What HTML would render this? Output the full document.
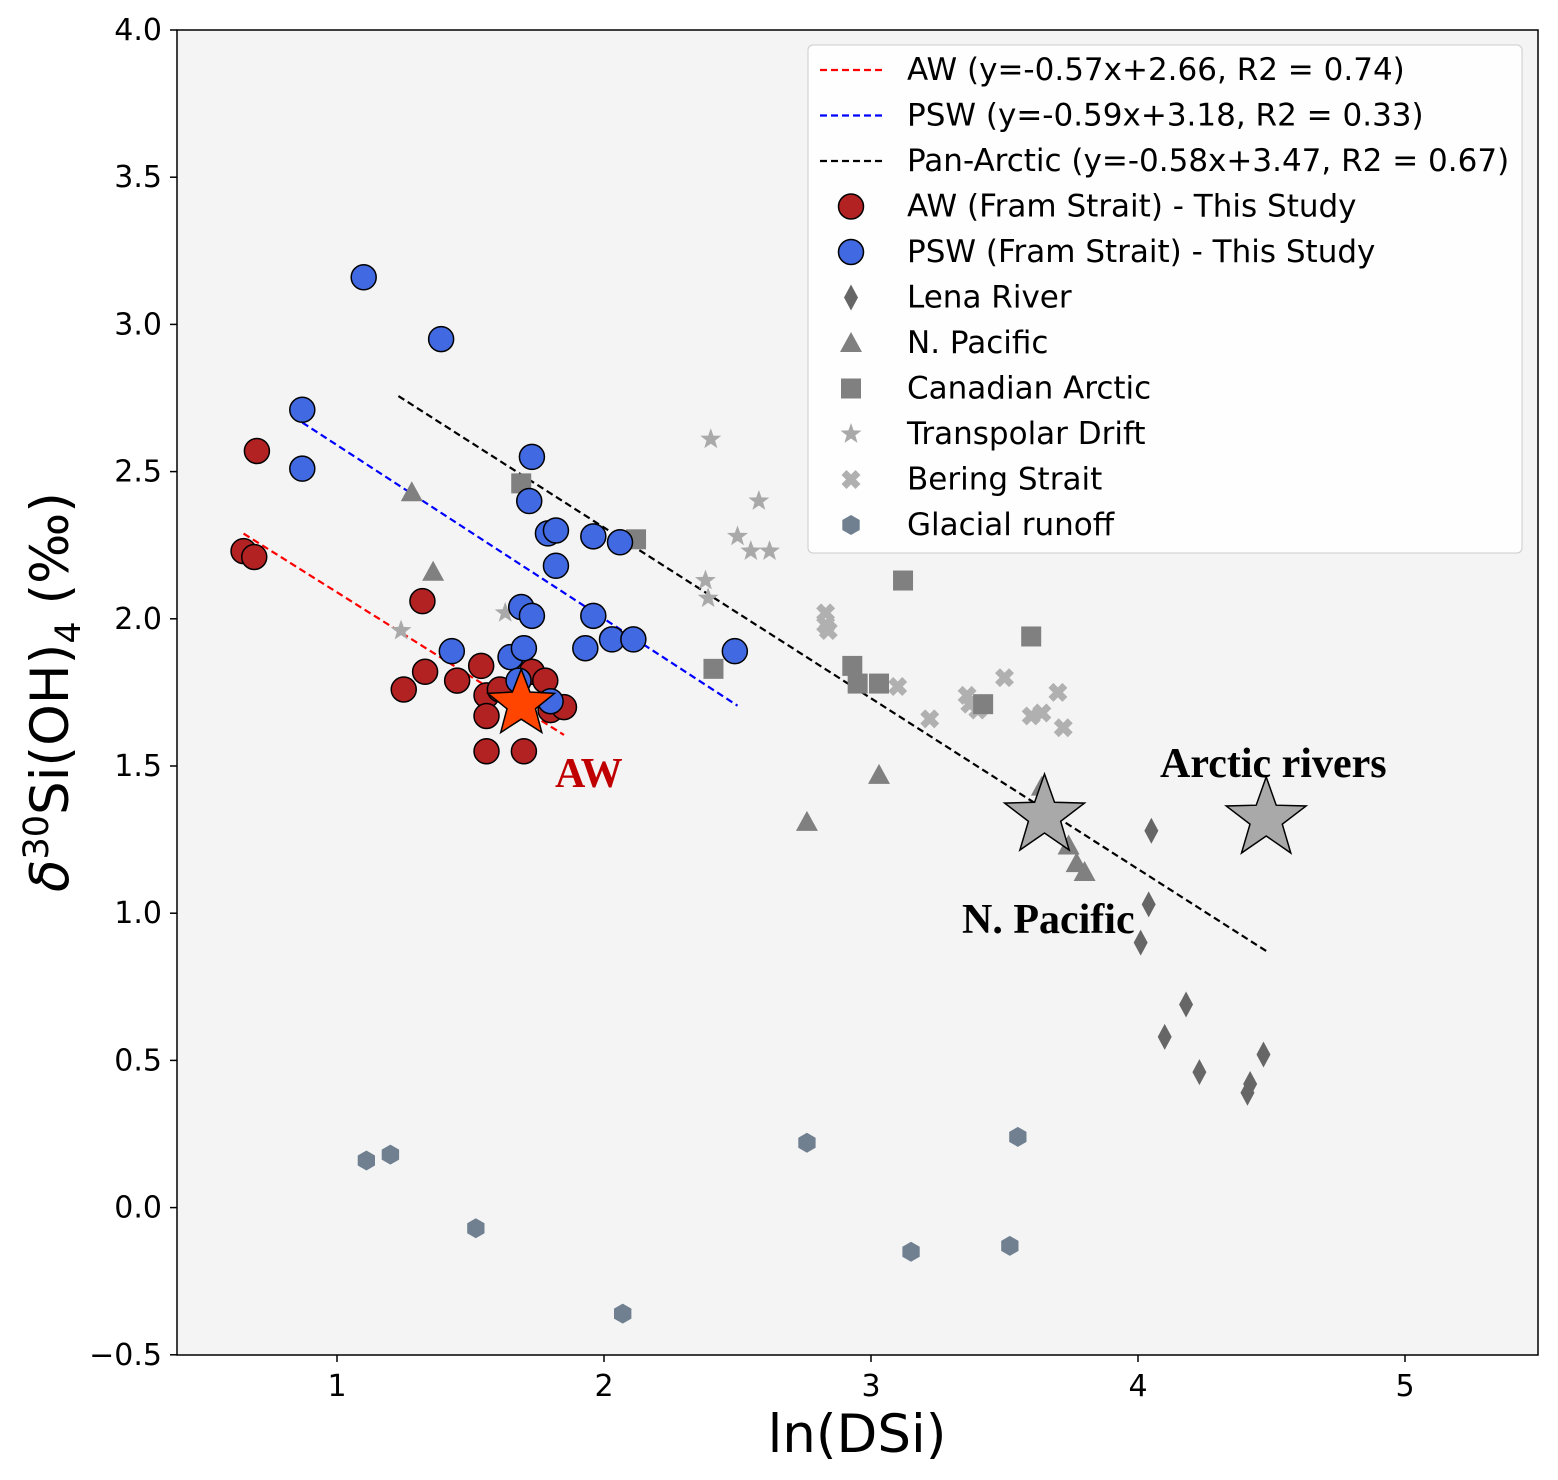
<!DOCTYPE html>
<html><head><meta charset="utf-8"><style>
body{margin:0;background:#fff}
svg text{font-family:"DejaVu Sans","Liberation Sans",sans-serif}
</style></head><body>
<svg id="c" width="1558" height="1475" xmlns="http://www.w3.org/2000/svg">
<rect x="177" y="30" width="1361" height="1325" fill="#f4f4f4" stroke="#000" stroke-width="1.5"/>
<g id="ticks"></g>
<g id="lines"></g>
<g id="marks"></g>
<text x="555" y="787" font-weight="bold" font-size="42" fill="#c00000" style="font-family:'Liberation Serif',serif">AW</text>
<text x="1160" y="777" font-weight="bold" font-size="42" style="font-family:'Liberation Serif',serif">Arctic rivers</text>
<text x="962" y="933" font-weight="bold" font-size="42" style="font-family:'Liberation Serif',serif">N. Pacific</text>
<text x="857" y="1452" text-anchor="middle" font-size="53">ln(DSi)</text>
<text transform="translate(68,692) rotate(-90)" text-anchor="middle" font-size="53"><tspan font-style="italic">δ</tspan><tspan dy="-20" font-size="35">30</tspan><tspan dy="20">Si(OH)</tspan><tspan dy="12" font-size="35">4</tspan><tspan dy="-12"> (‰)</tspan></text>
<g id="legend"><rect x="808" y="45" width="714" height="508" rx="5" fill="#fff" fill-opacity="0.85" stroke="#ccc"/></g>
</svg>
<script>
const xTicks=[1,2,3,4,5];
const yTicks=[-0.5,0.0,0.5,1.0,1.5,2.0,2.5,3.0,3.5,4.0];
const awX=[0.65,0.69,0.70,1.32,1.25,1.33,1.45,1.54,1.56,1.56,1.56,1.70,1.73,1.78,1.80,1.85,1.61];
const awY=[2.23,2.21,2.57,2.06,1.76,1.82,1.79,1.84,1.74,1.67,1.55,1.55,1.82,1.79,1.69,1.70,1.76];
const pswX=[1.10,1.39,0.87,0.87,1.73,1.72,1.79,1.82,1.82,1.96,2.06,1.69,1.73,1.96,1.43,1.65,1.70,1.93,2.03,2.11,2.49,1.68,1.80];
const pswY=[3.16,2.95,2.71,2.51,2.55,2.40,2.29,2.30,2.18,2.28,2.26,2.04,2.01,2.01,1.89,1.87,1.90,1.90,1.93,1.93,1.89,1.79,1.72];
const lenaX=[4.05,4.04,4.01,4.18,4.10,4.23,4.47,4.42,4.41];
const lenaY=[1.28,1.03,0.90,0.69,0.58,0.46,0.52,0.42,0.39];
const npX=[1.28,1.36,2.76,3.03,3.64,3.74,3.77,3.80];
const npY=[2.43,2.16,1.31,1.47,1.43,1.23,1.17,1.14];
const caX=[1.69,2.12,2.41,3.12,2.93,2.95,3.03,3.60,3.42];
const caY=[2.46,2.27,1.83,2.13,1.84,1.78,1.78,1.94,1.71];
const tpX=[1.24,1.63,2.40,2.58,2.50,2.55,2.62,2.38,2.39];
const tpY=[1.96,2.02,2.61,2.40,2.28,2.23,2.23,2.13,2.07];
const bsX=[2.83,2.83,2.84,3.10,3.22,3.36,3.37,3.40,3.50,3.70,3.60,3.64,3.72];
const bsY=[2.02,1.98,1.96,1.77,1.66,1.74,1.71,1.69,1.80,1.75,1.67,1.68,1.63];
const glX=[1.11,1.20,1.52,2.07,2.76,3.15,3.52,3.55];
const glY=[0.16,0.18,-0.07,-0.36,0.22,-0.15,-0.13,0.24];
const bigStarX=[1.69,3.65,4.48];
const bigStarY=[1.71,1.33,1.32];
const fitSlope=[-0.57,-0.59,-0.58];
const fitIntercept=[2.66,3.18,3.47];
const fitRange=[[0.65,1.85],[0.87,2.5],[1.23,4.48]];
const legendLabels=["AW (y=-0.57x+2.66, R2 = 0.74)","PSW (y=-0.59x+3.18, R2 = 0.33)","Pan-Arctic (y=-0.58x+3.47, R2 = 0.67)","AW (Fram Strait) - This Study","PSW (Fram Strait) - This Study","Lena River","N. Pacific","Canadian Arctic","Transpolar Drift","Bering Strait","Glacial runoff"];

const NS="http://www.w3.org/2000/svg";
const X=v=>337+(v-1)*267, Y=v=>30+(4-v)*294.4;
function mk(tag,attrs,parent){const e=document.createElementNS(NS,tag);for(const k in attrs)e.setAttribute(k,attrs[k]);parent.appendChild(e);return e;}
const T=document.getElementById('ticks'),L=document.getElementById('lines'),M=document.getElementById('marks'),G=document.getElementById('legend');
xTicks.forEach(t=>{mk('line',{x1:X(t),x2:X(t),y1:1355,y2:1362,stroke:'#000','stroke-width':1.5},T);
 const e=mk('text',{x:X(t),y:1396,'text-anchor':'middle','font-size':30},T);e.textContent=t;
 
 });
yTicks.forEach(t=>{mk('line',{x1:170,x2:177,y1:Y(t),y2:Y(t),stroke:'#000','stroke-width':1.5},T);
 const e=mk('text',{x:162,y:Y(t)+10,'text-anchor':'end','font-size':30},T);e.textContent=(t<0?'−':'')+Math.abs(t).toFixed(1);
 
 });
const lc=['#ff0000','#0000ff','#000000'];
fitSlope.forEach((s,i)=>{const [a,b]=fitRange[i];
 const l=mk('line',{x1:X(a),y1:Y(s*a+fitIntercept[i]),x2:X(b),y2:Y(s*b+fitIntercept[i]),stroke:lc[i],'stroke-width':2.2,'stroke-dasharray':'7,4'},L);
 
 });
function starPts(cx,cy,R,r){let p=[];for(let i=0;i<10;i++){const a=-Math.PI/2+i*Math.PI/5,rr=i%2?r:R;p.push((cx+rr*Math.cos(a)).toFixed(1)+','+(cy+rr*Math.sin(a)).toFixed(1));}return p.join(' ');}
function polyPts(cx,cy,n,R,rot){let p=[];for(let i=0;i<n;i++){const a=rot+i*2*Math.PI/n;p.push((cx+R*Math.cos(a)).toFixed(1)+','+(cy+R*Math.sin(a)).toFixed(1));}return p.join(' ');}
function marker(type,cx,cy,parent){
 if(type==='aw')return mk('circle',{cx,cy,r:12.5,fill:'#b22222',stroke:'#000','stroke-width':1.5},parent);
 if(type==='psw')return mk('circle',{cx,cy,r:12.5,fill:'#4169e1',stroke:'#000','stroke-width':1.5},parent);
 if(type==='lena')return mk('polygon',{points:`${cx},${cy-13} ${cx+7},${cy} ${cx},${cy+13} ${cx-7},${cy}`,fill:'#666'},parent);
 if(type==='np')return mk('polygon',{points:`${cx},${cy-11} ${cx+11},${cy+9} ${cx-11},${cy+9}`,fill:'#808080'},parent);
 if(type==='ca')return mk('rect',{x:cx-10,y:cy-10,width:20,height:20,fill:'#808080'},parent);
 if(type==='tp')return mk('polygon',{points:starPts(cx,cy,11,4.5),fill:'#a9a9a9'},parent);
 if(type==='bs')return mk('path',{d:`M${cx-7},${cy-7}L${cx+7},${cy+7}M${cx+7},${cy-7}L${cx-7},${cy+7}`,stroke:'#b0b0b0','stroke-width':7},parent);
 if(type==='gl')return mk('polygon',{points:polyPts(cx,cy,6,10,-Math.PI/2),fill:'#708090'},parent);
}
const sets=[['gl',glX,glY],['bs',bsX,bsY],['tp',tpX,tpY],['ca',caX,caY],['np',npX,npY],['lena',lenaX,lenaY],['aw',awX,awY],['psw',pswX,pswY]];
sets.forEach(([t,xs,ys])=>xs.forEach((x,i)=>{const e=marker(t,X(x),Y(ys[i]),M);
 
 }));
bigStarX.forEach((x,i)=>{const e=mk('polygon',{points:starPts(X(x),Y(bigStarY[i]),i==0?35:42,i==0?15:17),fill:i==0?'#ff4500':'#a9a9a9',stroke:'#000','stroke-width':1.5},M);
 
 });
const types=['aw','psw','lena','np','ca','tp','bs','gl'];
legendLabels.forEach((lab,i)=>{const y=70+i*45.5;
 if(i<3)mk('line',{x1:820,x2:882,y1:y,y2:y,stroke:lc[i],'stroke-width':2.2,'stroke-dasharray':'7,4'},G);
 else marker(types[i-3],851,y,G);
 const e=mk('text',{x:907,y:y+10,'font-size':31},G);e.textContent=lab;
 
 });
</script>
</body></html>
